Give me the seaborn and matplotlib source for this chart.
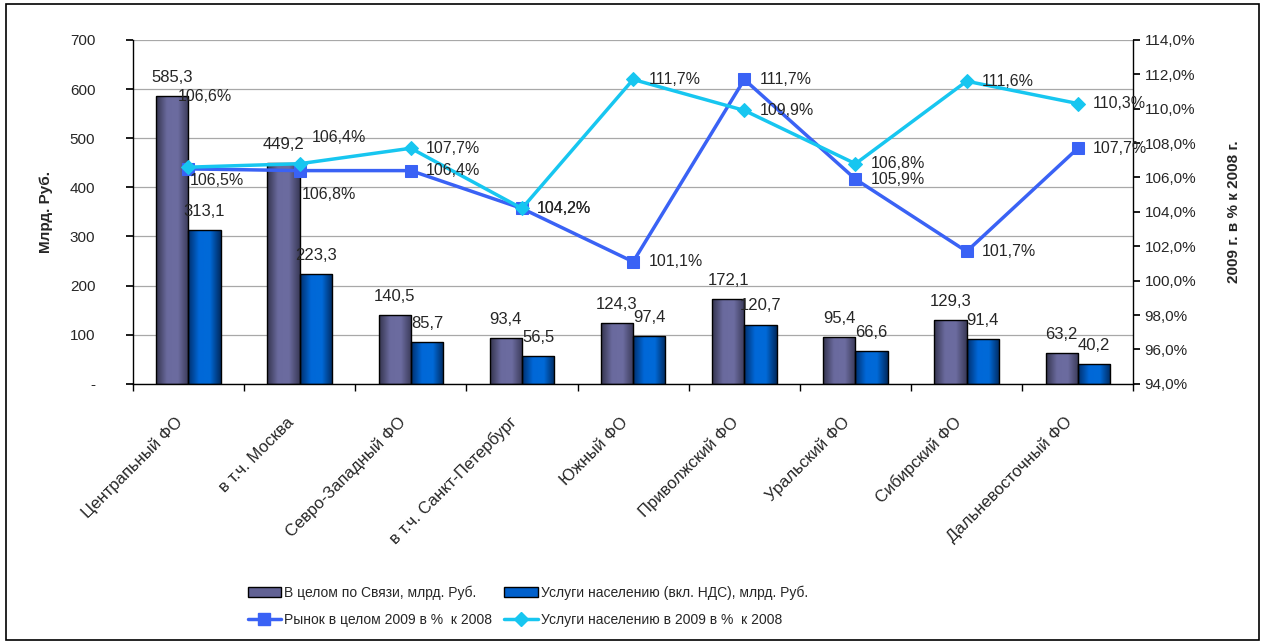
import numpy as np
import pandas as pd
import matplotlib
matplotlib.use("Agg")
import matplotlib.pyplot as plt
import seaborn as sns
from matplotlib.colors import LinearSegmentedColormap
from matplotlib.lines import Line2D
from matplotlib.patches import Patch, Rectangle

# data
regions = ["Центрапьный ФО", "в т.ч. Москва", "Севро-Западный ФО", "в т.ч. Санкт-Петербург",
           "Южный ФО", "Приволжский ФО", "Уральский ФО", "Сибирский ФО", "Дальневосточный ФО"]
total_bn = [585.3, 449.2, 140.5, 93.4, 124.3, 172.1, 95.4, 129.3, 63.2]
households_bn = [313.1, 223.3, 85.7, 56.5, 97.4, 120.7, 66.6, 91.4, 40.2]
market_pct = [106.5, 106.4, 106.4, 104.2, 101.1, 111.7, 105.9, 101.7, 107.7]
households_pct = [106.6, 106.8, 107.7, 104.2, 111.7, 109.9, 106.8, 111.6, 110.3]

name_total = "В целом по Связи, млрд. Руб."
name_house = "Услуги населению (вкл. НДС), млрд. Руб."
name_market_pct = "Рынок в целом 2009 в %  к 2008"
name_house_pct = "Услуги населению в 2009 в %  к 2008"

c_total = "#626294"
c_house = "#0060CC"
c_market = "#3A62F5"
c_house_line = "#17C6F0"

# shaded (cylinder-like) fills for the bars
grad_total = LinearSegmentedColormap.from_list("gt", ["#35354f", "#6a6a9e", "#6c6ca0", "#3a3a58"])
grad_house = LinearSegmentedColormap.from_list("gh", ["#00306e", "#0068d8", "#006ad8", "#002a60"])

sns.set_theme(style="white")
plt.rcParams["font.family"] = ["Liberation Sans", "DejaVu Sans"]
plt.rcParams["font.size"] = 11


def fmt(v):
    return f"{v:.1f}".replace(".", ",")


df = pd.DataFrame({
    "region": regions * 2,
    "value": total_bn + households_bn,
    "series": [name_total] * len(regions) + [name_house] * len(regions),
})

fig = plt.figure(figsize=(12.65, 6.44), dpi=100)
ax = fig.add_axes([0.105, 0.404, 0.791, 0.534])

sns.barplot(data=df, x="region", y="value", hue="series", palette=[c_total, c_house],
            width=0.58, saturation=1, edgecolor="black", linewidth=1, legend=False, ax=ax)

# paint a horizontal gradient inside every bar
grad = np.linspace(0, 1, 64).reshape(1, -1)
for cont, cmap in zip(ax.containers, [grad_total, grad_house]):
    for bar in cont:
        x0, y0 = bar.get_x(), bar.get_y()
        im = ax.imshow(grad, cmap=cmap, aspect="auto", interpolation="bicubic",
                       extent=[x0, x0 + bar.get_width(), y0, y0 + bar.get_height()],
                       zorder=bar.get_zorder() - 0.05)
        im.set_clip_path(bar)
        bar.set_facecolor("none")

ax.set_xlim(-0.5, len(regions) - 0.5)
ax.set_ylim(0, 700)
ax.set_yticks(range(0, 701, 100))
ax.set_yticklabels(["-"] + [str(v) for v in range(100, 701, 100)], fontsize=11)
ax.yaxis.grid(True, color="#a8a8a8", lw=0.9)
ax.set_axisbelow(True)
ax.set_xlabel("")
ax.set_ylabel("Млрд. Руб.", fontsize=11, fontweight="bold", labelpad=12)

# category ticks on the borders, labels (slightly left of the middle, as in Excel)
ax.set_xticks(np.arange(len(regions)) - 0.12)
ax.set_xticklabels(regions, rotation=45, ha="right", rotation_mode="anchor", fontsize=12)
ax.set_xticks(np.arange(len(regions) + 1) - 0.5, minor=True)
ax.tick_params(axis="x", which="major", length=0, pad=22)
ax.tick_params(axis="x", which="minor", length=5, color="black", bottom=True, direction="out")
ax.tick_params(axis="y", left=True, length=5, color="black", direction="out", pad=22)
for s in ["top", "right"]:
    ax.spines[s].set_visible(False)
for s in ["left", "bottom"]:
    ax.spines[s].set_color("black")
    ax.spines[s].set_linewidth(1)

for cont, vals in zip(ax.containers, [total_bn, households_bn]):
    ax.bar_label(cont, labels=[fmt(v) for v in vals], padding=8, fontsize=12)

# right axis with the growth lines
ax2 = ax.twinx()
xs = np.arange(len(regions))
sns.lineplot(x=xs, y=market_pct, ax=ax2, color=c_market, lw=2.5, marker="s",
             markersize=9, markeredgecolor=c_market, legend=False)
sns.lineplot(x=xs, y=households_pct, ax=ax2, color=c_house_line, lw=2.5, marker="D",
             markersize=7.5, markeredgecolor=c_house_line, legend=False)
ax2.set_ylim(94, 114)
ax2.set_yticks(np.arange(94, 114.1, 2))
ax2.set_yticklabels([fmt(v) + "%" for v in np.arange(94, 114.1, 2)], fontsize=11)
ax2.set_ylabel("2009 г. в % к 2008 г.", fontsize=11, fontweight="bold", rotation=90, labelpad=22)
ax2.tick_params(axis="y", right=True, length=5, color="black", direction="out", pad=3)
for s in ["top", "left", "bottom"]:
    ax2.spines[s].set_visible(False)
ax2.spines["right"].set_color("black")
ax2.spines["right"].set_linewidth(1)

market_off = {0: (1, -8), 1: (9, 24)}
house_off = {0: (-8, 51), 1: (1.5, -22)}
for i, v in enumerate(market_pct):
    ax2.annotate(fmt(v) + "%", (i, v), xytext=market_off.get(i, (11, 0)),
                 textcoords="offset points", ha="left", va="center", fontsize=11.5)
for i, v in enumerate(households_pct):
    ax2.annotate(fmt(v) + "%", (i, v), xytext=house_off.get(i, (11, 0)),
                 textcoords="offset points", ha="left", va="center", fontsize=11.5)

handles = [
    Patch(facecolor=c_total, edgecolor="black", label=name_total),
    Line2D([], [], color=c_market, lw=2.5, marker="s", markersize=9, label=name_market_pct),
    Patch(facecolor=c_house, edgecolor="black", label=name_house),
    Line2D([], [], color=c_house_line, lw=2.5, marker="D", markersize=7.5, label=name_house_pct),
]
fig.legend(handles=handles, loc="upper left", bbox_to_anchor=(0.186, 0.11), ncol=2,
           frameon=False, fontsize=10, handlelength=2.4, handletextpad=0.2,
           columnspacing=0.9, labelspacing=0.95)

fig.add_artist(Rectangle((0.005, 0.006), 0.99, 0.988, transform=fig.transFigure,
                         fill=False, edgecolor="black", lw=1.2))

fig.savefig("out.png", dpi=100)
